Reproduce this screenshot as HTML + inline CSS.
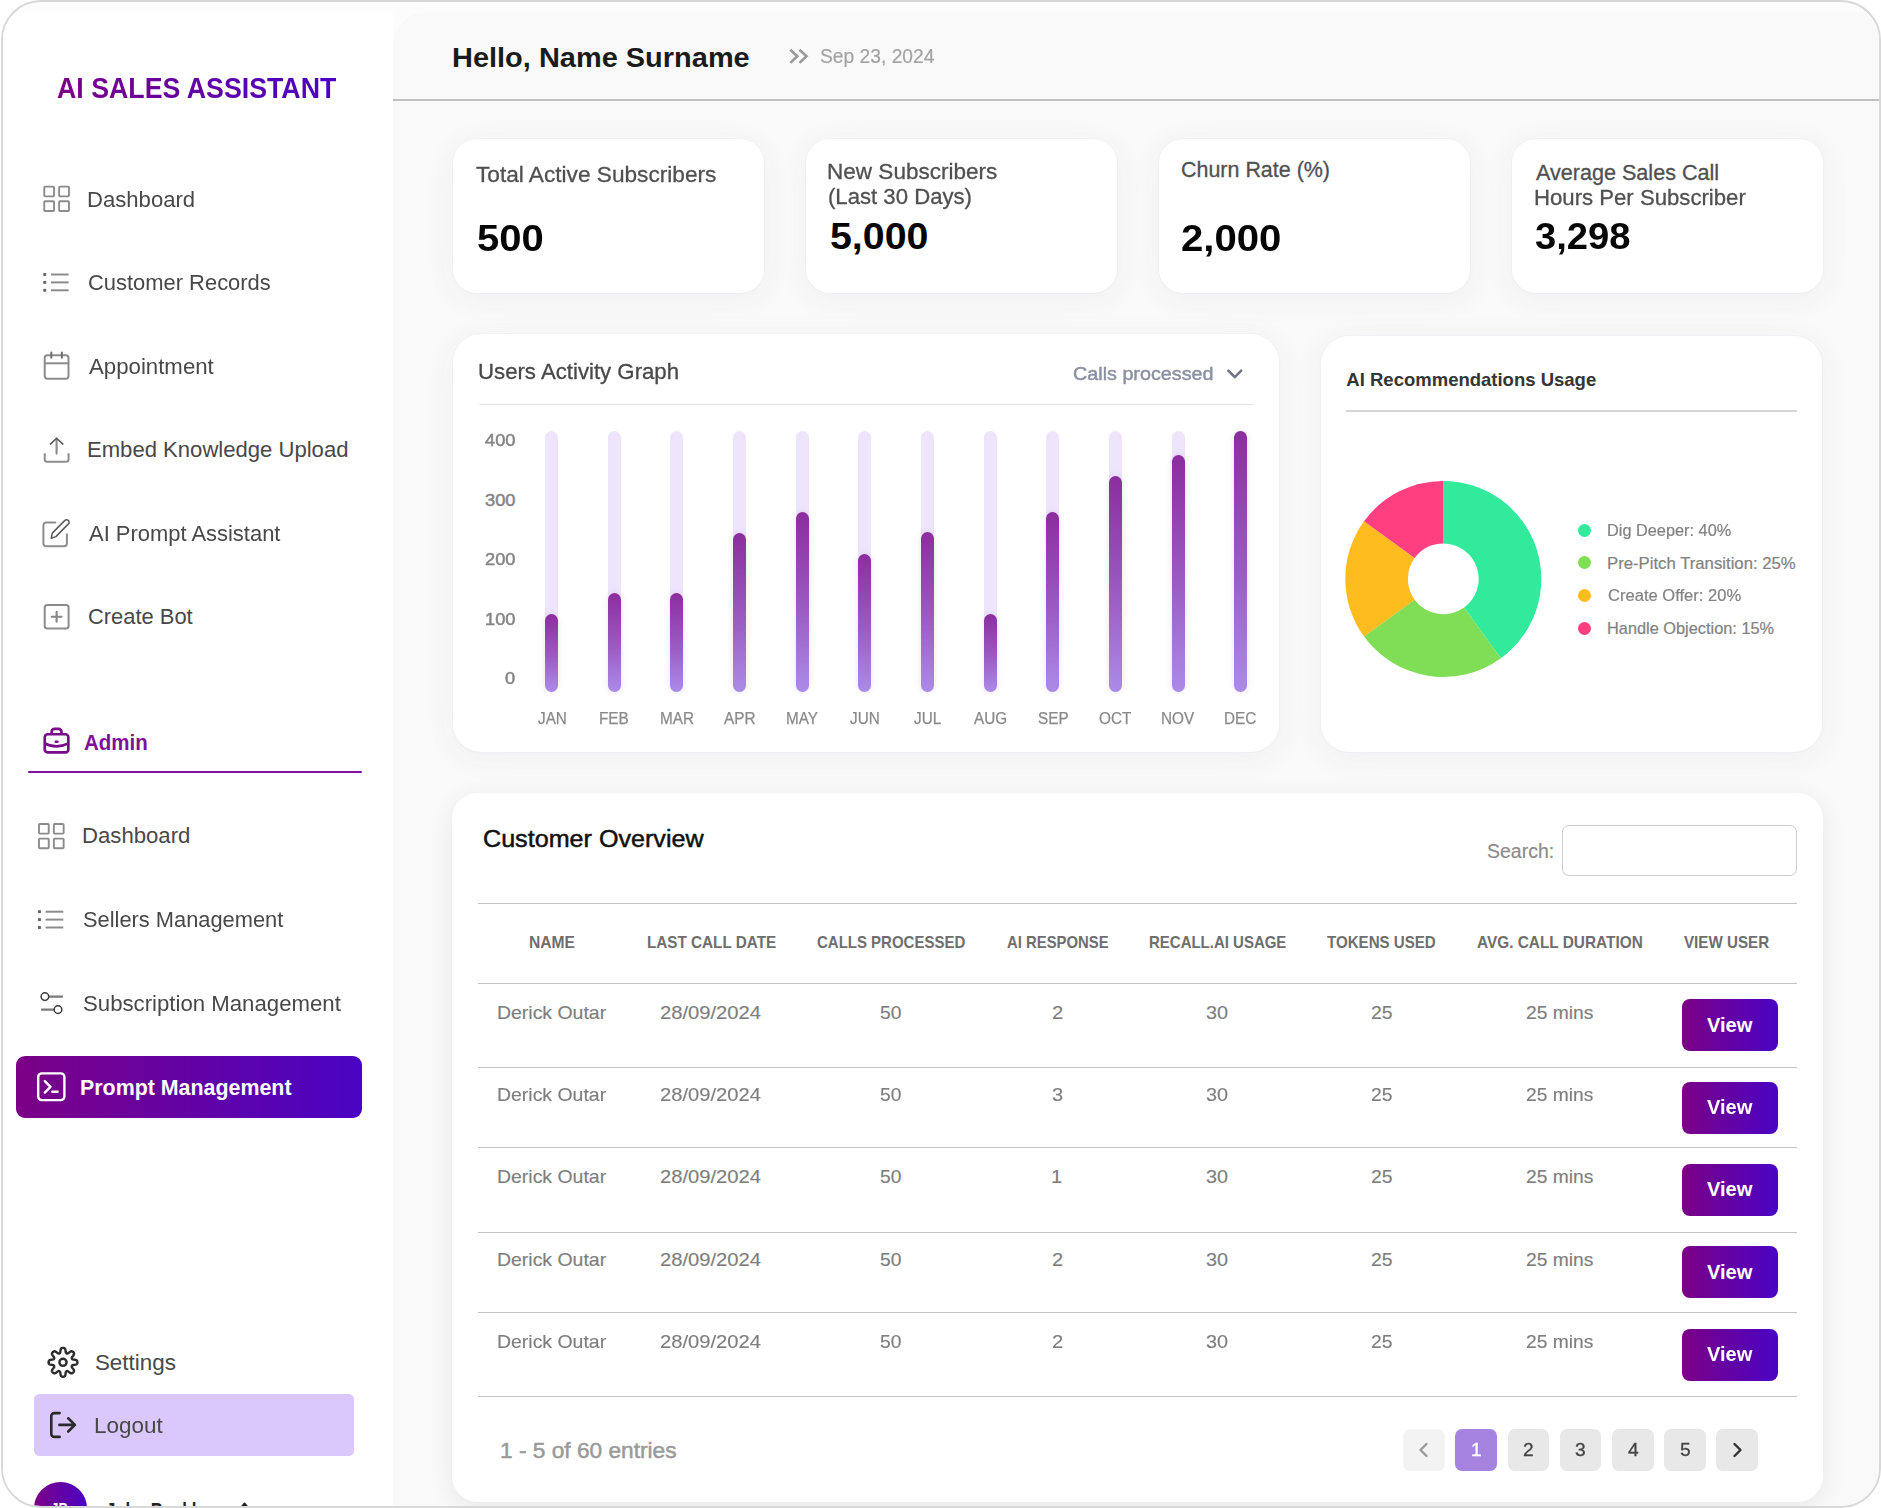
<!DOCTYPE html>
<html lang="en"><head><meta charset="utf-8"><title>AI Sales Assistant - Admin Dashboard</title>
<style>
html,body{margin:0;padding:0;background:#fff;}
body{width:1881px;height:1508px;overflow:hidden;position:relative;font-family:"Liberation Sans", sans-serif;}
#frame{position:absolute;left:1px;top:0;width:1880px;height:1508px;box-sizing:border-box;border:2px solid #d8d8d8;border-radius:40px;overflow:hidden;background:#fcfcfc;}
#in{position:absolute;left:-3px;top:-2px;width:1881px;height:1508px;}
#in div, #in svg.i, .t{position:absolute;}
.t{white-space:nowrap;display:block;transform-origin:0 0;}
</style></head>
<body><div id="frame"><div id="in">
<div style="left:3px;top:12px;width:390.20px;height:1496.00px;background:#fff;"></div>
<div style="left:393.2px;top:12px;width:1487.80px;height:1496.00px;background:#f9f9f9;border-top-left-radius:34px;"></div>
<div style="left:393.2px;top:99.1px;width:1487.80px;height:1.80px;background:#c0c0c0;"></div>
<aside>
<span class="t" style="left:56.63px;top:71px;font-size:30.1px;line-height:33px;color:#7b0086;font-weight:700;transform:scaleX(0.8886);background:linear-gradient(90deg,#7b0086,#4a04c4);-webkit-background-clip:text;background-clip:text;-webkit-text-fill-color:transparent;">AI SALES ASSISTANT</span>
<span class="t" style="left:87.32px;top:187px;font-size:22.4px;line-height:25px;color:#484848;transform:scaleX(0.9871);">Dashboard</span>
<span class="t" style="left:88.02px;top:270px;font-size:22.4px;line-height:25px;color:#484848;transform:scaleX(0.9791);">Customer Records</span>
<span class="t" style="left:89.05px;top:354px;font-size:22.4px;line-height:25px;color:#484848;transform:scaleX(0.9925);">Appointment</span>
<span class="t" style="left:87.32px;top:437px;font-size:22.4px;line-height:25px;color:#484848;transform:translateY(0.40px) scaleX(0.9861);">Embed Knowledge Upload</span>
<span class="t" style="left:89.05px;top:521px;font-size:22.4px;line-height:25px;color:#484848;transform:scaleX(0.9798);">AI Prompt Assistant</span>
<span class="t" style="left:88.02px;top:604px;font-size:22.4px;line-height:25px;color:#484848;transform:translateY(0.20px) scaleX(0.9783);">Create Bot</span>
<svg class="i" style="left:0;top:0" width="400" height="1508" viewBox="0 0 400 1508"><g transform="translate(0 0)"><g stroke="#8c8c8c" stroke-width="1.9" fill="none"><rect x="44.25" y="186.65" width="9.8" height="9.7" rx="0.8"/><rect x="44.25" y="201.3" width="9.8" height="9.7" rx="0.8"/><rect x="59.15" y="186.65" width="9.8" height="9.7" rx="0.8"/><rect x="59.15" y="201.3" width="9.8" height="9.7" rx="0.8"/></g></g><g transform="translate(-5.3 637.3)"><g stroke="#8c8c8c" stroke-width="1.9" fill="none"><rect x="44.25" y="186.65" width="9.8" height="9.7" rx="0.8"/><rect x="44.25" y="201.3" width="9.8" height="9.7" rx="0.8"/><rect x="59.15" y="186.65" width="9.8" height="9.7" rx="0.8"/><rect x="59.15" y="201.3" width="9.8" height="9.7" rx="0.8"/></g></g><g transform="translate(0 0)"><path d="M50.9 274.5H68.6" stroke="#8c8c8c" stroke-width="2" fill="none"/><rect x="43.3" y="273.05" width="2.9" height="2.9" fill="#666"/><path d="M50.9 282.4H68.6" stroke="#8c8c8c" stroke-width="2" fill="none"/><rect x="43.3" y="280.95" width="2.9" height="2.9" fill="#666"/><path d="M50.9 290.3H68.6" stroke="#8c8c8c" stroke-width="2" fill="none"/><rect x="43.3" y="288.85" width="2.9" height="2.9" fill="#666"/></g><g transform="translate(-5.3 637.2)"><path d="M50.9 274.5H68.6" stroke="#8c8c8c" stroke-width="2" fill="none"/><rect x="43.3" y="273.05" width="2.9" height="2.9" fill="#666"/><path d="M50.9 282.4H68.6" stroke="#8c8c8c" stroke-width="2" fill="none"/><rect x="43.3" y="280.95" width="2.9" height="2.9" fill="#666"/><path d="M50.9 290.3H68.6" stroke="#8c8c8c" stroke-width="2" fill="none"/><rect x="43.3" y="288.85" width="2.9" height="2.9" fill="#666"/></g><g stroke="#8c8c8c" stroke-width="2" fill="none"><rect x="44.7" y="355.2" width="23.8" height="23.5" rx="2.6"/><path d="M44.7 363.3H68.5"/><path d="M51.3 352.4V357.8M61.9 352.4V357.8" stroke="#6e6e6e" stroke-linecap="round"/></g><g fill="none"><path d="M44.7 453.2V459.2a2.6 2.6 0 0 0 2.6 2.6H66a2.6 2.6 0 0 0 2.6-2.6V453.2" stroke="#8c8c8c" stroke-width="2"/><path d="M56.6 438.6V453.6" stroke="#8c8c8c" stroke-width="2.1" stroke-linecap="round"/><path d="M50.4 444.1L56.6 438.2L62.8 444.1" stroke="#555" stroke-width="1.5" stroke-linecap="round" stroke-linejoin="round"/></g><g fill="none"><path d="M55.3 522.4H46.2a2.8 2.8 0 0 0-2.8 2.8V543.5a2.800 2.800 0 0 0 2.800 2.800H64.100a2.800 2.800 0 0 0 2.800-2.800V534.2" stroke="#8c8c8c" stroke-width="2" stroke-linecap="round"/><path d="M51.200 538.300L52.300 533.100L64.900 520.400a2.450 2.450 0 0 1 3.500 0a2.450 2.450 0 0 1 0 3.500L55.900 536.600Z" stroke="#5a5a5a" stroke-width="1.500" stroke-linejoin="round"/></g><g stroke="#8c8c8c" stroke-width="2" fill="none"><rect x="44.700" y="605" width="23.900" height="23.600" rx="2.600"/><path d="M51.700 616.800H61.500M56.600 611.900V621.700" stroke="#858585" stroke-width="2.100" stroke-linecap="round"/></g><g stroke="#7a0a8c" stroke-width="2.700" fill="none" stroke-linejoin="round"><rect x="44.750" y="734.250" width="23.600" height="18.200" rx="3"/><path d="M51.650 734V731.700a2.800 2.800 0 0 1 2.800-2.800h4.200a2.800 2.800 0 0 1 2.800 2.800V734"/><path d="M45 743.300C48.500 745.300 52.500 746.300 56.600 746.300C60.700 746.300 64.700 745.300 68.200 743.300"/><path d="M55.800 741.800H57.400" stroke-linecap="round" stroke-width="2.600"/></g><g fill="none"><path d="M49.600 996.600H62.200M41.900 1009.650H53.400" stroke="#7a7a7a" stroke-width="2.100" stroke-linecap="round"/><circle cx="44.900" cy="996.600" r="3.800" stroke="#3a3a3a" stroke-width="1.500"/><circle cx="58" cy="1009.650" r="3.800" stroke="#3a3a3a" stroke-width="1.500"/></g></svg>
<span class="t" style="left:83.83px;top:730px;font-size:22.2px;line-height:25px;color:#800e9c;font-weight:700;transform:translateY(-0.20px) scaleX(0.9225);">Admin</span>
<div style="left:28px;top:770.5px;width:334.20px;height:2.80px;background:#82109b;border-radius:2px;"></div>
<span class="t" style="left:81.92px;top:823px;font-size:22.4px;line-height:25px;color:#484848;transform:translateY(0.30px) scaleX(0.9890);">Dashboard</span>
<span class="t" style="left:82.97px;top:907px;font-size:22.4px;line-height:25px;color:#484848;transform:scaleX(0.9755);">Sellers Management</span>
<span class="t" style="left:82.96px;top:991px;font-size:22.4px;line-height:25px;color:#484848;transform:scaleX(0.9911);">Subscription Management</span>
<div style="left:16.3px;top:1055.7px;width:345.90px;height:62.40px;background:linear-gradient(90deg,#7b0086 0%,#4a04c4 100%);border-radius:9px;"></div>
<span class="t" style="left:79.61px;top:1075px;font-size:22.2px;line-height:25px;color:#fff;font-weight:700;transform:translateY(-0.40px) scaleX(0.9639);">Prompt Management</span>
<span class="t" style="left:94.95px;top:1350px;font-size:22.4px;line-height:25px;color:#484848;transform:translateY(-0.30px);">Settings</span>
<div style="left:34.4px;top:1394px;width:319.60px;height:61.90px;background:#dac7fc;border-radius:5.500px;"></div>
<span class="t" style="left:93.90px;top:1413px;font-size:22.4px;line-height:25px;color:#484848;transform:scaleX(1.0024);">Logout</span>
<svg class="i" style="left:0;top:0" width="400" height="1508" viewBox="0 0 400 1508"><g stroke="#fff" stroke-width="2.400" fill="none" stroke-linecap="round" stroke-linejoin="round"><rect x="38.200" y="1073.400" width="26.200" height="26.700" rx="3.600"/><path d="M44.800 1081.100L50.500 1086.900L44.800 1092.600M52.300 1091.700H57.600"/></g><g stroke="#2e2e2e" stroke-width="2.400" fill="none" stroke-linejoin="round"><path d="M63.00 1347.90L63.38 1347.91L63.75 1347.96L64.12 1348.05L64.48 1348.20L64.82 1348.47L65.12 1348.92L65.35 1349.60L65.51 1350.47L65.63 1351.37L65.73 1352.10L65.87 1352.61L66.04 1352.94L66.23 1353.16L66.45 1353.32L66.67 1353.43L66.91 1353.51L67.17 1353.55L67.47 1353.53L67.82 1353.42L68.28 1353.15L68.88 1352.71L69.59 1352.16L70.32 1351.66L70.96 1351.34L71.49 1351.24L71.92 1351.29L72.28 1351.43L72.61 1351.63L72.91 1351.86L73.18 1352.12L73.44 1352.39L73.67 1352.69L73.87 1353.02L74.01 1353.38L74.06 1353.81L73.96 1354.34L73.64 1354.98L73.14 1355.71L72.59 1356.42L72.15 1357.02L71.88 1357.48L71.77 1357.83L71.75 1358.13L71.79 1358.39L71.87 1358.63L71.98 1358.85L72.14 1359.07L72.36 1359.26L72.69 1359.43L73.20 1359.57L73.93 1359.67L74.83 1359.79L75.70 1359.95L76.38 1360.18L76.83 1360.48L77.10 1360.82L77.25 1361.18L77.34 1361.55L77.39 1361.92L77.40 1362.30L77.39 1362.68L77.34 1363.05L77.25 1363.42L77.10 1363.78L76.83 1364.12L76.38 1364.42L75.70 1364.65L74.83 1364.81L73.93 1364.93L73.20 1365.03L72.69 1365.17L72.36 1365.34L72.14 1365.53L71.98 1365.75L71.87 1365.97L71.79 1366.21L71.75 1366.47L71.77 1366.77L71.88 1367.12L72.15 1367.58L72.59 1368.18L73.14 1368.89L73.64 1369.62L73.96 1370.26L74.06 1370.79L74.01 1371.22L73.87 1371.58L73.67 1371.91L73.44 1372.21L73.18 1372.48L72.91 1372.74L72.61 1372.97L72.28 1373.17L71.92 1373.31L71.49 1373.36L70.96 1373.26L70.32 1372.94L69.59 1372.44L68.88 1371.89L68.28 1371.45L67.82 1371.18L67.47 1371.07L67.17 1371.05L66.91 1371.09L66.67 1371.17L66.45 1371.28L66.23 1371.44L66.04 1371.66L65.87 1371.99L65.73 1372.50L65.63 1373.23L65.51 1374.13L65.35 1375.00L65.12 1375.68L64.82 1376.13L64.48 1376.40L64.12 1376.55L63.75 1376.64L63.38 1376.69L63.00 1376.70L62.62 1376.69L62.25 1376.64L61.88 1376.55L61.52 1376.40L61.18 1376.13L60.88 1375.68L60.65 1375.00L60.49 1374.13L60.37 1373.23L60.27 1372.50L60.13 1371.99L59.96 1371.66L59.77 1371.44L59.55 1371.28L59.33 1371.17L59.09 1371.09L58.83 1371.05L58.53 1371.07L58.18 1371.18L57.72 1371.45L57.12 1371.89L56.41 1372.44L55.68 1372.94L55.04 1373.26L54.51 1373.36L54.08 1373.31L53.72 1373.17L53.39 1372.97L53.09 1372.74L52.82 1372.48L52.56 1372.21L52.33 1371.91L52.13 1371.58L51.99 1371.22L51.94 1370.79L52.04 1370.26L52.36 1369.62L52.86 1368.89L53.41 1368.18L53.85 1367.58L54.12 1367.12L54.23 1366.77L54.25 1366.47L54.21 1366.21L54.13 1365.97L54.02 1365.75L53.86 1365.53L53.64 1365.34L53.31 1365.17L52.80 1365.03L52.07 1364.93L51.17 1364.81L50.30 1364.65L49.62 1364.42L49.17 1364.12L48.90 1363.78L48.75 1363.42L48.66 1363.05L48.61 1362.68L48.60 1362.30L48.61 1361.92L48.66 1361.55L48.75 1361.18L48.90 1360.82L49.17 1360.48L49.62 1360.18L50.30 1359.95L51.17 1359.79L52.07 1359.67L52.80 1359.57L53.31 1359.43L53.64 1359.26L53.86 1359.07L54.02 1358.85L54.13 1358.63L54.21 1358.39L54.25 1358.13L54.23 1357.83L54.12 1357.48L53.85 1357.02L53.41 1356.42L52.86 1355.71L52.36 1354.98L52.04 1354.34L51.94 1353.81L51.99 1353.38L52.13 1353.02L52.33 1352.69L52.56 1352.39L52.82 1352.12L53.09 1351.86L53.39 1351.63L53.72 1351.43L54.08 1351.29L54.51 1351.24L55.04 1351.34L55.68 1351.66L56.41 1352.16L57.12 1352.71L57.72 1353.15L58.18 1353.42L58.53 1353.53L58.83 1353.55L59.09 1353.51L59.33 1353.43L59.55 1353.32L59.77 1353.16L59.96 1352.94L60.13 1352.61L60.27 1352.10L60.37 1351.37L60.49 1350.47L60.65 1349.60L60.88 1348.92L61.18 1348.47L61.52 1348.20L61.88 1348.05L62.25 1347.96L62.62 1347.91Z"/><circle cx="63" cy="1362.300" r="3.600"/></g><g stroke="#2b2b2b" stroke-width="2.600" fill="none" stroke-linecap="round" stroke-linejoin="round"><path d="M59.600 1413.100H54.300a3 3 0 0 0-3 3V1433.900a3 3 0 0 0 3 3H59.600"/><path d="M59.400 1424.900H74.800M68.200 1418.300L74.900 1424.900L68.200 1431.500"/></g></svg>
<div style="left:34.1px;top:1482.2px;width:52.70px;height:52.70px;background:linear-gradient(90deg,#7b0086 0%,#4a04c4 100%);border-radius:50%;"></div>
<span class="t" style="left:50.95px;top:1500px;font-size:17.5px;line-height:20px;color:#fff;font-weight:700;transform:translateY(-0.50px) scaleX(0.7581);">JB</span>
<span class="t" style="left:105.95px;top:1499px;font-size:21.5px;line-height:24px;color:#222;font-weight:700;transform:translateY(-0.50px) scaleX(0.7797);">John Buckley</span>
<svg class="i" style="left:236px;top:1498px" width="18" height="12" viewBox="236 1498 18 12"><path d="M240.600 1508.500L244.500 1503.600L248.400 1508.500" fill="none" stroke="#222" stroke-width="2.200" stroke-linecap="round" stroke-linejoin="round"/></svg>
</aside>
<header>
<span class="t" style="left:452.04px;top:41px;font-size:28.4px;line-height:32px;color:#1b1b1b;font-weight:700;transform:translateY(-0.40px) scaleX(1.0200);">Hello, Name Surname</span>
<svg class="i" style="left:780px;top:40px" width="40" height="32" viewBox="780 40 40 32" fill="none" stroke="#999" stroke-width="2.600" stroke-linejoin="miter"><path d="M790.300 49.700L797.300 56.300L790.300 62.900M799.500 49.700L806.500 56.300L799.500 62.900"/></svg>
<span class="t" style="left:819.65px;top:45px;font-size:19.6px;line-height:22px;color:#a3a3a3;transform:scaleX(0.9817);-webkit-text-stroke:0.2px #a3a3a3;">Sep 23, 2024</span>
</header>
<main>
<section>
<div style="left:453px;top:139px;width:311.00px;height:154.00px;background:#fff;border-radius:24px;box-shadow:0 5px 30px 3px rgba(60,60,110,0.042),0 0 0 1px rgba(110,110,190,0.03);"></div>
<div style="left:806px;top:139px;width:311.00px;height:154.00px;background:#fff;border-radius:24px;box-shadow:0 5px 30px 3px rgba(60,60,110,0.042),0 0 0 1px rgba(110,110,190,0.03);"></div>
<div style="left:1159px;top:139px;width:311.00px;height:154.00px;background:#fff;border-radius:24px;box-shadow:0 5px 30px 3px rgba(60,60,110,0.042),0 0 0 1px rgba(110,110,190,0.03);"></div>
<div style="left:1511.5px;top:139px;width:311.00px;height:154.00px;background:#fff;border-radius:24px;box-shadow:0 5px 30px 3px rgba(60,60,110,0.042),0 0 0 1px rgba(110,110,190,0.03);"></div>
<span class="t" style="left:475.75px;top:162px;font-size:22.3px;line-height:25px;color:#505050;transform:scaleX(1.0155);-webkit-text-stroke:0.3px #505050;">Total Active Subscribers</span>
<span class="t" style="left:477.32px;top:218px;font-size:36px;line-height:41px;color:#050505;font-weight:700;transform:scaleX(1.1112);">500</span>
<span class="t" style="left:826.64px;top:159px;font-size:22.3px;line-height:25px;color:#505050;transform:scaleX(1.0108);-webkit-text-stroke:0.3px #505050;">New Subscribers</span>
<span class="t" style="left:828.06px;top:184px;font-size:22.3px;line-height:25px;color:#505050;transform:scaleX(0.9930);-webkit-text-stroke:0.3px #505050;">(Last 30 Days)</span>
<span class="t" style="left:829.94px;top:216px;font-size:36px;line-height:41px;color:#050505;font-weight:700;transform:translateY(0.40px) scaleX(1.0924);">5,000</span>
<span class="t" style="left:1181.39px;top:157px;font-size:22.3px;line-height:25px;color:#505050;transform:translateY(-0.40px) scaleX(0.9620);-webkit-text-stroke:0.3px #505050;">Churn Rate (%)</span>
<span class="t" style="left:1181.20px;top:218px;font-size:36px;line-height:41px;color:#050505;font-weight:700;transform:scaleX(1.1142);">2,000</span>
<span class="t" style="left:1535.60px;top:160px;font-size:22.3px;line-height:25px;color:#505050;transform:translateY(0.40px) scaleX(0.9677);-webkit-text-stroke:0.3px #505050;">Average Sales Call</span>
<span class="t" style="left:1533.87px;top:185px;font-size:22.3px;line-height:25px;color:#505050;transform:scaleX(0.9938);-webkit-text-stroke:0.3px #505050;">Hours Per Subscriber</span>
<span class="t" style="left:1535.05px;top:216px;font-size:36px;line-height:41px;color:#050505;font-weight:700;transform:scaleX(1.0606);">3,298</span>
</section>
<section>
<div style="left:453.4px;top:334.3px;width:825.60px;height:417.70px;background:#fff;border-radius:28px;box-shadow:0 5px 30px 3px rgba(60,60,110,0.042),0 0 0 1px rgba(110,110,190,0.03);"></div>
<span class="t" style="left:478.41px;top:359px;font-size:22.6px;line-height:25px;color:#484848;transform:scaleX(0.9824);-webkit-text-stroke:0.3px #484848;">Users Activity Graph</span>
<span class="t" style="left:1073.06px;top:363px;font-size:18.6px;line-height:21px;color:#8a90a0;transform:scaleX(1.0622);-webkit-text-stroke:0.45px #8a90a0;">Calls processed</span>
<svg class="i" style="left:1220px;top:360px" width="30" height="26" viewBox="1220 360 30 26" fill="none" stroke="#70768a" stroke-width="2.600" stroke-linecap="round" stroke-linejoin="round"><path d="M1228.400 370.700L1234.800 377.200L1241.200 370.700"/></svg>
<div style="left:478.5px;top:403.7px;width:775.30px;height:1.30px;background:#e7e7e9;"></div>
<span class="t" style="left:485.34px;top:432px;font-size:15.6px;line-height:17px;color:#858585;transform:scaleX(1.1700);-webkit-text-stroke:0.45px #858585;">400</span>
<span class="t" style="left:485.34px;top:492px;font-size:15.6px;line-height:17px;color:#858585;transform:translateY(-0.50px) scaleX(1.1700);-webkit-text-stroke:0.45px #858585;">300</span>
<span class="t" style="left:485.34px;top:551px;font-size:15.6px;line-height:17px;color:#858585;transform:scaleX(1.1700);-webkit-text-stroke:0.45px #858585;">200</span>
<span class="t" style="left:485.34px;top:611px;font-size:15.6px;line-height:17px;color:#858585;transform:scaleX(1.1700);-webkit-text-stroke:0.45px #858585;">100</span>
<span class="t" style="left:504.64px;top:670px;font-size:15.6px;line-height:17px;color:#858585;transform:scaleX(1.1700);-webkit-text-stroke:0.45px #858585;">0</span>
<div style="left:545.1px;top:430.8px;width:12.90px;height:261.20px;background:#eee5fc;border-radius:6.5px;"></div>
<div style="left:545.1px;top:613.9px;width:12.90px;height:78.10px;background:linear-gradient(180deg,#8c2d9e 0%,#9b5cc4 55%,#ab8be8 100%);border-radius:6.5px;box-shadow:0 0 7px rgba(120,60,160,0.14);"></div>
<span class="t" style="left:537.61px;top:710px;font-size:15.6px;line-height:17px;color:#8a8a8a;transform:scaleX(0.9800);-webkit-text-stroke:0.25px #8a8a8a;">JAN</span>
<div style="left:607.8px;top:430.8px;width:12.90px;height:261.20px;background:#eee5fc;border-radius:6.5px;"></div>
<div style="left:607.8px;top:593px;width:12.90px;height:99.00px;background:linear-gradient(180deg,#8c2d9e 0%,#9b5cc4 55%,#ab8be8 100%);border-radius:6.5px;box-shadow:0 0 7px rgba(120,60,160,0.14);"></div>
<span class="t" style="left:599.11px;top:710px;font-size:15.6px;line-height:17px;color:#8a8a8a;transform:scaleX(0.9800);-webkit-text-stroke:0.25px #8a8a8a;">FEB</span>
<div style="left:670.4px;top:430.8px;width:12.90px;height:261.20px;background:#eee5fc;border-radius:6.5px;"></div>
<div style="left:670.4px;top:593px;width:12.90px;height:99.00px;background:linear-gradient(180deg,#8c2d9e 0%,#9b5cc4 55%,#ab8be8 100%);border-radius:6.5px;box-shadow:0 0 7px rgba(120,60,160,0.14);"></div>
<span class="t" style="left:659.53px;top:710px;font-size:15.6px;line-height:17px;color:#8a8a8a;transform:scaleX(0.9800);-webkit-text-stroke:0.25px #8a8a8a;">MAR</span>
<div style="left:733.1px;top:430.8px;width:12.90px;height:261.20px;background:#eee5fc;border-radius:6.5px;"></div>
<div style="left:733.1px;top:533.3px;width:12.90px;height:158.70px;background:linear-gradient(180deg,#8c2d9e 0%,#9b5cc4 55%,#ab8be8 100%);border-radius:6.5px;box-shadow:0 0 7px rgba(120,60,160,0.14);"></div>
<span class="t" style="left:724.10px;top:710px;font-size:15.6px;line-height:17px;color:#8a8a8a;transform:scaleX(0.9800);-webkit-text-stroke:0.25px #8a8a8a;">APR</span>
<div style="left:795.7px;top:430.8px;width:12.90px;height:261.20px;background:#eee5fc;border-radius:6.5px;"></div>
<div style="left:795.7px;top:512.4px;width:12.90px;height:179.60px;background:linear-gradient(180deg,#8c2d9e 0%,#9b5cc4 55%,#ab8be8 100%);border-radius:6.5px;box-shadow:0 0 7px rgba(120,60,160,0.14);"></div>
<span class="t" style="left:785.64px;top:710px;font-size:15.6px;line-height:17px;color:#8a8a8a;transform:scaleX(0.9800);-webkit-text-stroke:0.25px #8a8a8a;">MAY</span>
<div style="left:858.4px;top:430.8px;width:12.90px;height:261.20px;background:#eee5fc;border-radius:6.5px;"></div>
<div style="left:858.4px;top:554.2px;width:12.90px;height:137.80px;background:linear-gradient(180deg,#8c2d9e 0%,#9b5cc4 55%,#ab8be8 100%);border-radius:6.5px;box-shadow:0 0 7px rgba(120,60,160,0.14);"></div>
<span class="t" style="left:850.49px;top:710px;font-size:15.6px;line-height:17px;color:#8a8a8a;transform:scaleX(0.9800);-webkit-text-stroke:0.25px #8a8a8a;">JUN</span>
<div style="left:921.1px;top:430.8px;width:12.90px;height:261.20px;background:#eee5fc;border-radius:6.5px;"></div>
<div style="left:921.1px;top:531.8px;width:12.90px;height:160.20px;background:linear-gradient(180deg,#8c2d9e 0%,#9b5cc4 55%,#ab8be8 100%);border-radius:6.5px;box-shadow:0 0 7px rgba(120,60,160,0.14);"></div>
<span class="t" style="left:914.03px;top:710px;font-size:15.6px;line-height:17px;color:#8a8a8a;transform:scaleX(0.9800);-webkit-text-stroke:0.25px #8a8a8a;">JUL</span>
<div style="left:983.7px;top:430.8px;width:12.90px;height:261.20px;background:#eee5fc;border-radius:6.5px;"></div>
<div style="left:983.7px;top:613.9px;width:12.90px;height:78.10px;background:linear-gradient(180deg,#8c2d9e 0%,#9b5cc4 55%,#ab8be8 100%);border-radius:6.5px;box-shadow:0 0 7px rgba(120,60,160,0.14);"></div>
<span class="t" style="left:974.16px;top:710px;font-size:15.6px;line-height:17px;color:#8a8a8a;transform:scaleX(0.9800);-webkit-text-stroke:0.25px #8a8a8a;">AUG</span>
<div style="left:1046.4px;top:430.8px;width:12.90px;height:261.20px;background:#eee5fc;border-radius:6.5px;"></div>
<div style="left:1046.4px;top:512.4px;width:12.90px;height:179.60px;background:linear-gradient(180deg,#8c2d9e 0%,#9b5cc4 55%,#ab8be8 100%);border-radius:6.5px;box-shadow:0 0 7px rgba(120,60,160,0.14);"></div>
<span class="t" style="left:1037.64px;top:710px;font-size:15.6px;line-height:17px;color:#8a8a8a;transform:scaleX(0.9800);-webkit-text-stroke:0.25px #8a8a8a;">SEP</span>
<div style="left:1109.0px;top:430.8px;width:12.90px;height:261.20px;background:#eee5fc;border-radius:6.5px;"></div>
<div style="left:1109.0px;top:475.7px;width:12.90px;height:216.30px;background:linear-gradient(180deg,#8c2d9e 0%,#9b5cc4 55%,#ab8be8 100%);border-radius:6.5px;box-shadow:0 0 7px rgba(120,60,160,0.14);"></div>
<span class="t" style="left:1099.09px;top:710px;font-size:15.6px;line-height:17px;color:#8a8a8a;transform:scaleX(0.9800);-webkit-text-stroke:0.25px #8a8a8a;">OCT</span>
<div style="left:1171.7px;top:430.8px;width:12.90px;height:261.20px;background:#eee5fc;border-radius:6.5px;"></div>
<div style="left:1171.7px;top:454.8px;width:12.90px;height:237.20px;background:linear-gradient(180deg,#8c2d9e 0%,#9b5cc4 55%,#ab8be8 100%);border-radius:6.5px;box-shadow:0 0 7px rgba(120,60,160,0.14);"></div>
<span class="t" style="left:1160.95px;top:710px;font-size:15.6px;line-height:17px;color:#8a8a8a;transform:scaleX(0.9800);-webkit-text-stroke:0.25px #8a8a8a;">NOV</span>
<div style="left:1234.4px;top:430.8px;width:12.90px;height:261.20px;background:#eee5fc;border-radius:6.5px;"></div>
<div style="left:1234.4px;top:431px;width:12.90px;height:261.00px;background:linear-gradient(180deg,#8c2d9e 0%,#9b5cc4 55%,#ab8be8 100%);border-radius:6.5px;box-shadow:0 0 7px rgba(120,60,160,0.14);"></div>
<span class="t" style="left:1224.38px;top:710px;font-size:15.6px;line-height:17px;color:#8a8a8a;transform:scaleX(0.9800);-webkit-text-stroke:0.25px #8a8a8a;">DEC</span>
</section>
<section>
<div style="left:1321px;top:336px;width:501.00px;height:416.00px;background:#fff;border-radius:28px;box-shadow:0 5px 30px 3px rgba(60,60,110,0.042),0 0 0 1px rgba(110,110,190,0.03);"></div>
<span class="t" style="left:1346.36px;top:369px;font-size:18.5px;line-height:21px;color:#353535;font-weight:700;transform:translateY(-0.20px);">AI Recommendations Usage</span>
<div style="left:1346px;top:410.3px;width:451.00px;height:1.40px;background:#d6d6d8;"></div>
<svg class="i" style="left:1321px;top:336px" width="501" height="416" viewBox="1321 336 501 416"><path d="M1443.30 480.90A98.0 98.0 0 0 1 1500.90 658.18L1464.11 607.54A35.4 35.4 0 0 0 1443.30 543.50Z" fill="#31ea9b"/><path d="M1500.90 658.18A98.0 98.0 0 0 1 1364.02 636.50L1414.66 599.71A35.4 35.4 0 0 0 1464.11 607.54Z" fill="#7fde55"/><path d="M1364.02 636.50A98.0 98.0 0 0 1 1364.02 521.30L1414.66 558.09A35.4 35.4 0 0 0 1414.66 599.71Z" fill="#ffbc1f"/><path d="M1364.02 521.30A98.0 98.0 0 0 1 1443.30 480.90L1443.30 543.50A35.4 35.4 0 0 0 1414.66 558.09Z" fill="#ff3f7f"/></svg>
<div style="left:1578px;top:523.8px;width:13.00px;height:13.00px;background:#31ea9b;border-radius:50%;"></div>
<span class="t" style="left:1607.28px;top:521px;font-size:16.1px;line-height:18px;color:#828282;transform:scaleX(1.0135);-webkit-text-stroke:0.2px #828282;">Dig Deeper: 40%</span>
<div style="left:1578px;top:556.3px;width:13.00px;height:13.00px;background:#7fde55;border-radius:50%;"></div>
<span class="t" style="left:1607.25px;top:553px;font-size:16.1px;line-height:18px;color:#828282;transform:translateY(0.50px) scaleX(1.0393);-webkit-text-stroke:0.2px #828282;">Pre-Pitch Transition: 25%</span>
<div style="left:1578px;top:588.9px;width:13.00px;height:13.00px;background:#ffbc1f;border-radius:50%;"></div>
<span class="t" style="left:1607.78px;top:586px;font-size:16.1px;line-height:18px;color:#828282;transform:scaleX(1.0294);-webkit-text-stroke:0.2px #828282;">Create Offer: 20%</span>
<div style="left:1578px;top:621.5px;width:13.00px;height:13.00px;background:#ff3f7f;border-radius:50%;"></div>
<span class="t" style="left:1607.27px;top:619px;font-size:16.1px;line-height:18px;color:#828282;transform:translateY(-0.30px) scaleX(1.0151);-webkit-text-stroke:0.2px #828282;">Handle Objection: 15%</span>
</section>
<section>
<div style="left:452px;top:793px;width:1371.30px;height:709.00px;background:#fff;border-radius:26px;box-shadow:0 6px 26px rgba(0,0,0,0.07);"></div>
<span class="t" style="left:483.03px;top:824px;font-size:24.6px;line-height:27px;color:#111;transform:translateY(0.50px) scaleX(1.0217);-webkit-text-stroke:0.5px #111;">Customer Overview</span>
<span class="t" style="left:1487.21px;top:840px;font-size:20px;line-height:22px;color:#8a8a8a;transform:translateY(-0.50px) scaleX(0.9738);-webkit-text-stroke:0.15px #8a8a8a;">Search:</span>
<div style="left:1562.3px;top:824.5px;width:234.90px;height:51.60px;background:#fff;border:1.3px solid #cdcdcd;border-radius:7px;box-sizing:border-box;"></div>
<div style="left:478.4px;top:902.8000000000001px;width:1318.80px;height:1.20px;background:#c4c4c4;"></div>
<div style="left:478.4px;top:982.7px;width:1318.80px;height:1.20px;background:#c4c4c4;"></div>
<div style="left:478.4px;top:1067.3px;width:1318.80px;height:1.20px;background:#c4c4c4;"></div>
<div style="left:478.4px;top:1147.1000000000001px;width:1318.80px;height:1.20px;background:#c4c4c4;"></div>
<div style="left:478.4px;top:1232.0px;width:1318.80px;height:1.20px;background:#c4c4c4;"></div>
<div style="left:478.4px;top:1312.1000000000001px;width:1318.80px;height:1.20px;background:#c4c4c4;"></div>
<div style="left:478.4px;top:1396.3px;width:1318.80px;height:1.20px;background:#c4c4c4;"></div>
<span class="t" style="left:529.17px;top:933px;font-size:16.3px;line-height:18px;color:#6e6e6e;font-weight:700;transform:translateY(0.40px) scaleX(0.9604);">NAME</span>
<span class="t" style="left:646.70px;top:933px;font-size:16.3px;line-height:18px;color:#6e6e6e;font-weight:700;transform:translateY(0.40px) scaleX(0.9373);">LAST CALL DATE</span>
<span class="t" style="left:817.28px;top:933px;font-size:16.3px;line-height:18px;color:#6e6e6e;font-weight:700;transform:translateY(0.40px) scaleX(0.9205);">CALLS PROCESSED</span>
<span class="t" style="left:1006.82px;top:933px;font-size:16.3px;line-height:18px;color:#6e6e6e;font-weight:700;transform:translateY(0.40px) scaleX(0.9131);">AI RESPONSE</span>
<span class="t" style="left:1148.51px;top:933px;font-size:16.3px;line-height:18px;color:#6e6e6e;font-weight:700;transform:translateY(0.40px) scaleX(0.9204);">RECALL.AI USAGE</span>
<span class="t" style="left:1327.05px;top:933px;font-size:16.3px;line-height:18px;color:#6e6e6e;font-weight:700;transform:translateY(0.40px) scaleX(0.9266);">TOKENS USED</span>
<span class="t" style="left:1476.81px;top:933px;font-size:16.3px;line-height:18px;color:#6e6e6e;font-weight:700;transform:translateY(0.40px) scaleX(0.9448);">AVG. CALL DURATION</span>
<span class="t" style="left:1683.65px;top:933px;font-size:16.3px;line-height:18px;color:#6e6e6e;font-weight:700;transform:translateY(0.40px) scaleX(0.9313);">VIEW USER</span>
<span class="t" style="left:497.31px;top:1002px;font-size:18.6px;line-height:21px;color:#7e7e7e;transform:translateY(-0.20px) scaleX(1.0457);-webkit-text-stroke:0.15px #7e7e7e;">Derick Outar</span>
<span class="t" style="left:660.09px;top:1002px;font-size:18.6px;line-height:21px;color:#7e7e7e;transform:translateY(-0.20px) scaleX(1.0848);-webkit-text-stroke:0.15px #7e7e7e;">28/09/2024</span>
<span class="t" style="left:879.73px;top:1002px;font-size:18.6px;line-height:21px;color:#7e7e7e;transform:translateY(-0.20px) scaleX(1.0356);-webkit-text-stroke:0.15px #7e7e7e;">50</span>
<span class="t" style="left:1051.65px;top:1002px;font-size:18.6px;line-height:21px;color:#7e7e7e;transform:translateY(-0.20px) scaleX(1.0800);-webkit-text-stroke:0.15px #7e7e7e;">2</span>
<span class="t" style="left:1206.41px;top:1002px;font-size:18.6px;line-height:21px;color:#7e7e7e;transform:translateY(-0.20px) scaleX(1.0660);-webkit-text-stroke:0.15px #7e7e7e;">30</span>
<span class="t" style="left:1370.62px;top:1002px;font-size:18.6px;line-height:21px;color:#7e7e7e;transform:translateY(-0.20px) scaleX(1.0410);-webkit-text-stroke:0.15px #7e7e7e;">25</span>
<span class="t" style="left:1525.93px;top:1002px;font-size:18.6px;line-height:21px;color:#7e7e7e;transform:translateY(-0.20px) scaleX(1.0341);-webkit-text-stroke:0.15px #7e7e7e;">25 mins</span>
<div style="left:1682.4px;top:999.3px;width:95.40px;height:52.00px;background:linear-gradient(90deg,#7b0086 0%,#4a04c4 100%);border-radius:8px;"></div>
<span class="t" style="left:1707.25px;top:1014px;font-size:20px;line-height:22px;color:#fff;font-weight:700;transform:translateY(-0.20px) scaleX(1.0048);">View</span>
<span class="t" style="left:497.31px;top:1084px;font-size:18.6px;line-height:21px;color:#7e7e7e;transform:scaleX(1.0457);-webkit-text-stroke:0.15px #7e7e7e;">Derick Outar</span>
<span class="t" style="left:660.09px;top:1084px;font-size:18.6px;line-height:21px;color:#7e7e7e;transform:scaleX(1.0848);-webkit-text-stroke:0.15px #7e7e7e;">28/09/2024</span>
<span class="t" style="left:879.73px;top:1084px;font-size:18.6px;line-height:21px;color:#7e7e7e;transform:scaleX(1.0356);-webkit-text-stroke:0.15px #7e7e7e;">50</span>
<span class="t" style="left:1051.81px;top:1084px;font-size:18.6px;line-height:21px;color:#7e7e7e;transform:scaleX(1.0800);-webkit-text-stroke:0.15px #7e7e7e;">3</span>
<span class="t" style="left:1206.41px;top:1084px;font-size:18.6px;line-height:21px;color:#7e7e7e;transform:scaleX(1.0660);-webkit-text-stroke:0.15px #7e7e7e;">30</span>
<span class="t" style="left:1370.62px;top:1084px;font-size:18.6px;line-height:21px;color:#7e7e7e;transform:scaleX(1.0410);-webkit-text-stroke:0.15px #7e7e7e;">25</span>
<span class="t" style="left:1525.93px;top:1084px;font-size:18.6px;line-height:21px;color:#7e7e7e;transform:scaleX(1.0341);-webkit-text-stroke:0.15px #7e7e7e;">25 mins</span>
<div style="left:1682.4px;top:1081.5px;width:95.40px;height:52.00px;background:linear-gradient(90deg,#7b0086 0%,#4a04c4 100%);border-radius:8px;"></div>
<span class="t" style="left:1707.25px;top:1096px;font-size:20px;line-height:22px;color:#fff;font-weight:700;transform:scaleX(1.0048);">View</span>
<span class="t" style="left:497.31px;top:1166px;font-size:18.6px;line-height:21px;color:#7e7e7e;transform:translateY(0.35px) scaleX(1.0457);-webkit-text-stroke:0.15px #7e7e7e;">Derick Outar</span>
<span class="t" style="left:660.09px;top:1166px;font-size:18.6px;line-height:21px;color:#7e7e7e;transform:translateY(0.35px) scaleX(1.0848);-webkit-text-stroke:0.15px #7e7e7e;">28/09/2024</span>
<span class="t" style="left:879.73px;top:1166px;font-size:18.6px;line-height:21px;color:#7e7e7e;transform:translateY(0.35px) scaleX(1.0356);-webkit-text-stroke:0.15px #7e7e7e;">50</span>
<span class="t" style="left:1051.49px;top:1166px;font-size:18.6px;line-height:21px;color:#7e7e7e;transform:translateY(0.35px) scaleX(1.0800);-webkit-text-stroke:0.15px #7e7e7e;">1</span>
<span class="t" style="left:1206.41px;top:1166px;font-size:18.6px;line-height:21px;color:#7e7e7e;transform:translateY(0.35px) scaleX(1.0660);-webkit-text-stroke:0.15px #7e7e7e;">30</span>
<span class="t" style="left:1370.62px;top:1166px;font-size:18.6px;line-height:21px;color:#7e7e7e;transform:translateY(0.35px) scaleX(1.0410);-webkit-text-stroke:0.15px #7e7e7e;">25</span>
<span class="t" style="left:1525.93px;top:1166px;font-size:18.6px;line-height:21px;color:#7e7e7e;transform:translateY(0.35px) scaleX(1.0341);-webkit-text-stroke:0.15px #7e7e7e;">25 mins</span>
<div style="left:1682.4px;top:1163.85px;width:95.40px;height:52.00px;background:linear-gradient(90deg,#7b0086 0%,#4a04c4 100%);border-radius:8px;"></div>
<span class="t" style="left:1707.25px;top:1178px;font-size:20px;line-height:22px;color:#fff;font-weight:700;transform:translateY(0.35px) scaleX(1.0048);">View</span>
<span class="t" style="left:497.31px;top:1249px;font-size:18.6px;line-height:21px;color:#7e7e7e;transform:translateY(-0.15px) scaleX(1.0457);-webkit-text-stroke:0.15px #7e7e7e;">Derick Outar</span>
<span class="t" style="left:660.09px;top:1249px;font-size:18.6px;line-height:21px;color:#7e7e7e;transform:translateY(-0.15px) scaleX(1.0848);-webkit-text-stroke:0.15px #7e7e7e;">28/09/2024</span>
<span class="t" style="left:879.73px;top:1249px;font-size:18.6px;line-height:21px;color:#7e7e7e;transform:translateY(-0.15px) scaleX(1.0356);-webkit-text-stroke:0.15px #7e7e7e;">50</span>
<span class="t" style="left:1051.65px;top:1249px;font-size:18.6px;line-height:21px;color:#7e7e7e;transform:translateY(-0.15px) scaleX(1.0800);-webkit-text-stroke:0.15px #7e7e7e;">2</span>
<span class="t" style="left:1206.41px;top:1249px;font-size:18.6px;line-height:21px;color:#7e7e7e;transform:translateY(-0.15px) scaleX(1.0660);-webkit-text-stroke:0.15px #7e7e7e;">30</span>
<span class="t" style="left:1370.62px;top:1249px;font-size:18.6px;line-height:21px;color:#7e7e7e;transform:translateY(-0.15px) scaleX(1.0410);-webkit-text-stroke:0.15px #7e7e7e;">25</span>
<span class="t" style="left:1525.93px;top:1249px;font-size:18.6px;line-height:21px;color:#7e7e7e;transform:translateY(-0.15px) scaleX(1.0341);-webkit-text-stroke:0.15px #7e7e7e;">25 mins</span>
<div style="left:1682.4px;top:1246.35px;width:95.40px;height:52.00px;background:linear-gradient(90deg,#7b0086 0%,#4a04c4 100%);border-radius:8px;"></div>
<span class="t" style="left:1707.25px;top:1261px;font-size:20px;line-height:22px;color:#fff;font-weight:700;transform:translateY(-0.15px) scaleX(1.0048);">View</span>
<span class="t" style="left:497.31px;top:1331px;font-size:18.6px;line-height:21px;color:#7e7e7e;transform:scaleX(1.0457);-webkit-text-stroke:0.15px #7e7e7e;">Derick Outar</span>
<span class="t" style="left:660.09px;top:1331px;font-size:18.6px;line-height:21px;color:#7e7e7e;transform:scaleX(1.0848);-webkit-text-stroke:0.15px #7e7e7e;">28/09/2024</span>
<span class="t" style="left:879.73px;top:1331px;font-size:18.6px;line-height:21px;color:#7e7e7e;transform:scaleX(1.0356);-webkit-text-stroke:0.15px #7e7e7e;">50</span>
<span class="t" style="left:1051.65px;top:1331px;font-size:18.6px;line-height:21px;color:#7e7e7e;transform:scaleX(1.0800);-webkit-text-stroke:0.15px #7e7e7e;">2</span>
<span class="t" style="left:1206.41px;top:1331px;font-size:18.6px;line-height:21px;color:#7e7e7e;transform:scaleX(1.0660);-webkit-text-stroke:0.15px #7e7e7e;">30</span>
<span class="t" style="left:1370.62px;top:1331px;font-size:18.6px;line-height:21px;color:#7e7e7e;transform:scaleX(1.0410);-webkit-text-stroke:0.15px #7e7e7e;">25</span>
<span class="t" style="left:1525.93px;top:1331px;font-size:18.6px;line-height:21px;color:#7e7e7e;transform:scaleX(1.0341);-webkit-text-stroke:0.15px #7e7e7e;">25 mins</span>
<div style="left:1682.4px;top:1328.5px;width:95.40px;height:52.00px;background:linear-gradient(90deg,#7b0086 0%,#4a04c4 100%);border-radius:8px;"></div>
<span class="t" style="left:1707.25px;top:1343px;font-size:20px;line-height:22px;color:#fff;font-weight:700;transform:scaleX(1.0048);">View</span>
<span class="t" style="left:500.19px;top:1438px;font-size:22px;line-height:25px;color:#9a9a9a;transform:translateY(0.20px) scaleX(1.0310);-webkit-text-stroke:0.5px #9a9a9a;">1 - 5 of 60 entries</span>
<div style="left:1403.2px;top:1429.3px;width:41.60px;height:41.40px;background:#f3f3f3;border-radius:7px;"></div>
<div style="left:1455.4px;top:1429.3px;width:41.60px;height:41.40px;background:#a683df;border-radius:7px;"></div>
<span class="t" style="left:1470.65px;top:1439px;font-size:18.3px;line-height:21px;color:#fff;transform:scaleX(1.0500);-webkit-text-stroke:0.3px #fff;">1</span>
<div style="left:1507.6px;top:1429.3px;width:41.60px;height:41.40px;background:#e8e8e8;border-radius:7px;"></div>
<span class="t" style="left:1523.00px;top:1439px;font-size:18.3px;line-height:21px;color:#444;transform:scaleX(1.0500);-webkit-text-stroke:0.3px #444;">2</span>
<div style="left:1559.8px;top:1429.3px;width:41.60px;height:41.40px;background:#e8e8e8;border-radius:7px;"></div>
<span class="t" style="left:1575.35px;top:1439px;font-size:18.3px;line-height:21px;color:#444;transform:scaleX(1.0500);-webkit-text-stroke:0.3px #444;">3</span>
<div style="left:1612px;top:1429.3px;width:41.60px;height:41.40px;background:#e8e8e8;border-radius:7px;"></div>
<span class="t" style="left:1627.55px;top:1439px;font-size:18.3px;line-height:21px;color:#444;transform:scaleX(1.0500);-webkit-text-stroke:0.3px #444;">4</span>
<div style="left:1664.2px;top:1429.3px;width:41.60px;height:41.40px;background:#e8e8e8;border-radius:7px;"></div>
<span class="t" style="left:1679.75px;top:1439px;font-size:18.3px;line-height:21px;color:#444;transform:scaleX(1.0500);-webkit-text-stroke:0.3px #444;">5</span>
<div style="left:1716.4px;top:1429.3px;width:41.60px;height:41.40px;background:#e8e8e8;border-radius:7px;"></div>
<svg class="i" style="left:1413px;top:1439px" width="22" height="22" viewBox="0 0 22 22" fill="none" stroke="#9a9a9a" stroke-width="2.400" stroke-linecap="round" stroke-linejoin="round"><path d="M13.500 5L7.500 11l6 6"/></svg>
<svg class="i" style="left:1726.200px;top:1439px" width="22" height="22" viewBox="0 0 22 22" fill="none" stroke="#333" stroke-width="2.400" stroke-linecap="round" stroke-linejoin="round"><path d="M8.500 5l6 6-6 6"/></svg>
</section>
</main>
</div></div></body></html>
